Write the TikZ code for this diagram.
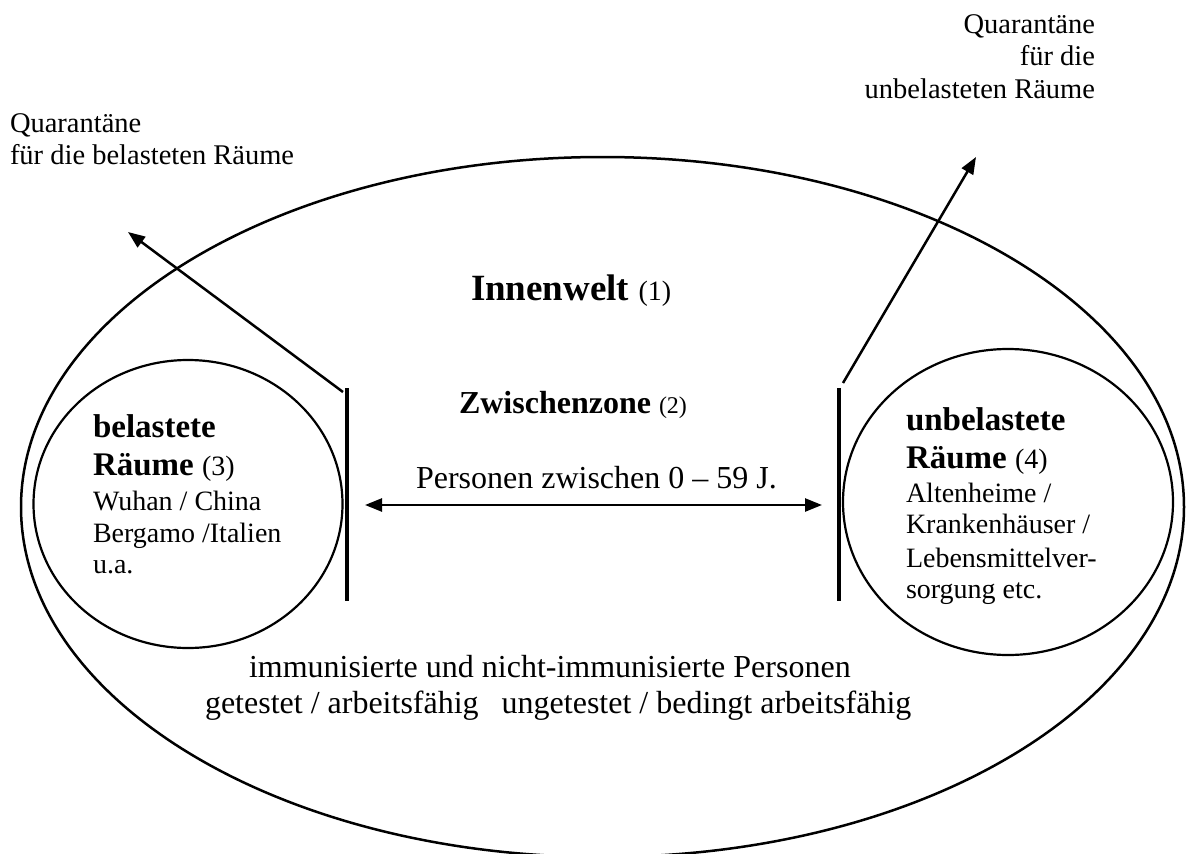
\documentclass[tikz,border=0pt]{standalone}
\usepackage{fontspec}
\setmainfont{Liberation Serif}
\usetikzlibrary{arrows.meta}
\tikzset{
  txt/.style={inner sep=0pt, outer sep=0pt},
  qlab/.style={txt, font=\fontsize{28.5}{33}\selectfont},
  inlab/.style={txt, font=\fontsize{28}{32}\selectfont},
  mainlab/.style={txt, font=\fontsize{32}{36}\selectfont},
  bfhead/.style={txt, font=\fontsize{33}{36}\selectfont\bfseries},
  outline/.style={line width=2.5pt},
  roomline/.style={line width=2.2pt},
  barline/.style={line width=4.5pt},
  outarrow/.style={line width=2.5pt, -{Triangle[length=17pt,width=13pt]}},
  twoarrow/.style={line width=2.5pt, {Triangle[length=17pt,width=13pt]}-{Triangle[length=17pt,width=13pt]}}
}
\begin{document}
\begin{tikzpicture}[x=1pt,y=-1pt]
\useasboundingbox[fill=white] (0,0) rectangle (1187,854);
% outer world
\draw[outline] (602.5,507) ellipse [x radius=581.5pt, y radius=350pt];
% rooms
\draw[roomline] (188,504) ellipse [x radius=154.5pt, y radius=144pt];
\draw[roomline] (1008,502) ellipse [x radius=165pt, y radius=153pt];
% bars
\coordinate (bL1) at (347,388);
\coordinate (bL2) at (347,601);
\coordinate (bR1) at (839,388);
\coordinate (bR2) at (839,601);
\draw[barline] (bL1) -- (bL2);
\draw[barline] (bR1) -- (bR2);
% quarantine arrows
\coordinate (aLs) at (343,392);
\coordinate (aLt) at (128,232);
\coordinate (aRs) at (843,383);
\coordinate (aRt) at (976,157);
\draw[outarrow] (aLs) -- (aLt);
\draw[outarrow] (aRs) -- (aRt);
% persons arrow
\coordinate (pL) at (365,505);
\coordinate (pR) at (822,505);
\draw[twoarrow] (pL) -- (pR);
% labels
\node[qlab, anchor=base west] (qa1) at (10,132) {Quarantäne};
\node[qlab, anchor=base west] (qa2) at (10,164) {für die belasteten Räume};
\node[qlab, anchor=base east] (qb1) at (1095,33) {Quarantäne};
\node[qlab, anchor=base east] (qb2) at (1095,65) {für die};
\node[qlab, anchor=base east] (qb3) at (1095,98) {unbelasteten Räume};
\node[txt, anchor=base west] (innen) at (471,300) {\fontsize{37}{40}\selectfont\bfseries Innenwelt \fontsize{28}{32}\mdseries\selectfont(1)};
\node[txt, anchor=base west] (zw) at (459,413) {\fontsize{32}{36}\selectfont\bfseries Zwischenzone \fontsize{24}{28}\mdseries\selectfont(2)};
\node[mainlab, anchor=base west] (pers) at (416,488) {Personen zwischen 0 – 59 J.};
% left room
\node[bfhead, anchor=base west] (bel1) at (93,437) {belastete};
\node[txt, anchor=base west] (bel2) at (93,475) {\fontsize{33}{36}\selectfont\bfseries Räume \fontsize{28}{32}\mdseries\selectfont(3)};
\node[inlab, anchor=base west] (bel3) at (93,510) {Wuhan / China};
\node[inlab, anchor=base west] (bel4) at (93,542) {Bergamo /Italien};
\node[inlab, anchor=base west] (bel5) at (93,573) {u.a.};
% right room
\node[bfhead, anchor=base west] (unb1) at (906,430) {unbelastete};
\node[txt, anchor=base west] (unb2) at (906,468) {\fontsize{33}{36}\selectfont\bfseries Räume \fontsize{28}{32}\mdseries\selectfont(4)};
\node[inlab, anchor=base west] (unb3) at (906,502) {Altenheime /};
\node[inlab, anchor=base west] (unb4) at (906,533) {Krankenhäuser /};
\node[inlab, anchor=base west] (unb5) at (906,567) {Lebensmittelver-};
\node[inlab, anchor=base west] (unb6) at (906,598) {sorgung etc.};
% bottom text
\node[mainlab, anchor=base west] (imm1) at (249,677) {immunisierte und nicht-immunisierte Personen};
\node[mainlab, anchor=base west] (imm2) at (205,713) {getestet / arbeitsfähig\hspace{23pt}ungetestet / bedingt arbeitsfähig};
\end{tikzpicture}
\end{document}
